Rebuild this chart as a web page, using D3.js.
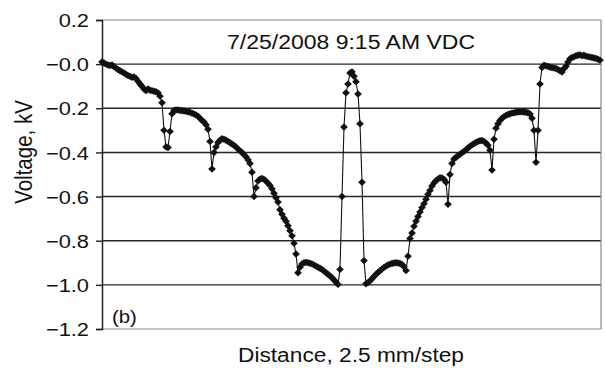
<!DOCTYPE html>
<html>
<head>
<meta charset="utf-8">
<script src="https://cdn.jsdelivr.net/npm/d3@7"></script>
<style>
  html, body { margin: 0; padding: 0; background: #fff; }
  svg { display: block; font-family: "Liberation Sans", Arial, sans-serif; }
</style>
</head>
<body>
<svg id="chart" width="605" height="368"></svg>
<script>
// Measured probe voltage (kV) at each 2.5 mm step along the scan
const voltage = [
  0.010, 0.005, 0.000, -0.004, -0.006, -0.004, -0.012, -0.018, -0.024, -0.030,
  -0.035, -0.040, -0.046, -0.052, -0.055, -0.060, -0.058, -0.065, -0.078, -0.090,
  -0.100, -0.113, -0.120, -0.112, -0.118, -0.120, -0.123, -0.125, -0.130, -0.145,
  -0.175,
  -0.300, -0.375, -0.378, -0.305, -0.225, -0.210,
  -0.208, -0.207, -0.210, -0.210, -0.212, -0.214, -0.216, -0.218, -0.222, -0.226,
  -0.230, -0.236, -0.245, -0.255, -0.262, -0.275, -0.295, -0.350,
  -0.475, -0.400,
  -0.375, -0.355, -0.345, -0.338, -0.340, -0.345, -0.350, -0.356, -0.362, -0.368,
  -0.375, -0.385, -0.393, -0.400, -0.410, -0.420, -0.433, -0.450,
  -0.490, -0.600, -0.560, -0.530, -0.520, -0.518, -0.522, -0.530, -0.540, -0.550,
  -0.565, -0.585, -0.605, -0.625, -0.660, -0.680, -0.698, -0.712, -0.732, -0.755,
  -0.778, -0.812, -0.860, -0.945,
  -0.920, -0.905, -0.900, -0.898, -0.900, -0.902, -0.905, -0.910, -0.915, -0.920,
  -0.925, -0.930, -0.937, -0.945, -0.952, -0.960, -0.968, -0.978, -0.988, -0.998,
  -0.930, -0.600, -0.285, -0.130, -0.090, -0.040, -0.035, -0.055, -0.080, -0.135,
  -0.270, -0.535, -0.890, -0.995, -0.990,
  -0.982, -0.972, -0.962, -0.952, -0.944, -0.936, -0.928, -0.921, -0.915, -0.910,
  -0.906, -0.903, -0.901, -0.900, -0.901, -0.903, -0.908, -0.918, -0.935, -0.870,
  -0.790, -0.765, -0.735, -0.712, -0.690, -0.670, -0.650, -0.632, -0.612, -0.590,
  -0.572, -0.552, -0.538, -0.528, -0.520, -0.515, -0.516, -0.522, -0.535, -0.635,
  -0.500, -0.450, -0.430, -0.422, -0.415, -0.408, -0.402, -0.395, -0.388, -0.380,
  -0.372, -0.366, -0.360, -0.355, -0.350, -0.347, -0.346, -0.350, -0.357, -0.368,
  -0.390, -0.480,
  -0.340, -0.290, -0.270, -0.255, -0.245, -0.238, -0.232, -0.228, -0.225, -0.222,
  -0.220, -0.218, -0.217, -0.216, -0.216, -0.217, -0.218, -0.220, -0.226, -0.245,
  -0.300, -0.445, -0.300,
  -0.090, -0.015, -0.005, -0.008, -0.010, -0.014, -0.016, -0.018, -0.020, -0.024,
  -0.030, -0.036, -0.020, -0.010, 0.010, 0.025, 0.030, 0.033, 0.038, 0.040,
  0.042, 0.038, 0.040, 0.036, 0.034, 0.032, 0.030, 0.028, 0.026, 0.022,
  0.018
];

// Y axis ticks and their printed labels
const yTicks = [0.2, 0.0, -0.2, -0.4, -0.6, -0.8, -1.0, -1.2];
const yTickLabels = ["0.2", "\u22120.0", "\u22120.2", "\u22120.4", "\u22120.6", "\u22120.8", "\u22121.0", "\u22121.2"];

const titleText = "7/25/2008 9:15 AM VDC";
const xTitle = "Distance, 2.5 mm/step";
const yTitle = "Voltage, kV";
const panelTag = "(b)";

const svg = d3.select("#chart");
const plot = { left: 102, right: 601, top: 20, bottom: 329 };
const steps = d3.range(voltage.length);

const x = d3.scaleLinear().domain([0, voltage.length - 1]).range([plot.left, plot.right - 1]);
const y = d3.scaleLinear().domain([-1.2, 0.2]).range([plot.bottom, plot.top]);

// Horizontal gridlines (inner ones dark, outer frame grey)
svg.append("g")
  .selectAll("line")
  .data(yTicks)
  .join("line")
  .attr("x1", plot.left).attr("x2", plot.right)
  .attr("y1", d => y(d)).attr("y2", d => y(d))
  .attr("stroke", d => (d === 0.2 || d === -1.2) ? "#8a8a8a" : "#262626")
  .attr("stroke-width", d => (d === 0.2 || d === -1.2) ? 1.2 : 1.4);

// Right frame edge
svg.append("line")
  .attr("x1", plot.right).attr("x2", plot.right)
  .attr("y1", plot.top).attr("y2", plot.bottom)
  .attr("stroke", "#8a8a8a").attr("stroke-width", 1.2);

// Left axis with ticks
const sx = 1.18;
const yAxis = d3.axisLeft(y)
  .tickValues(yTicks)
  .tickFormat((d, i) => yTickLabels[i])
  .tickSize(6)
  .tickPadding(7);

const gy = svg.append("g")
  .attr("transform", `translate(${plot.left},0)`)
  .call(yAxis);
gy.select(".domain").attr("stroke", "#222").attr("stroke-width", 1.5);
gy.selectAll(".tick line").attr("stroke", "#222").attr("stroke-width", 1.4);
gy.selectAll(".tick text")
  .attr("fill", "#111")
  .attr("font-size", 18.5)
  .attr("font-family", "Liberation Sans, Arial, sans-serif")
  .attr("x", -13 / sx)
  .attr("dy", "0.36em")
  .attr("transform", `scale(${sx},1)`);

// Connecting line
const line = d3.line()
  .x((d, i) => x(steps[i]))
  .y(d => y(d));

svg.append("path")
  .datum(voltage)
  .attr("d", line)
  .attr("fill", "none")
  .attr("stroke", "#111")
  .attr("stroke-width", 1.1);

// Diamond markers
const diamond = "M0,-3.7L3.8,0L0,3.7L-3.8,0Z";
svg.append("g")
  .selectAll("path")
  .data(voltage)
  .join("path")
  .attr("d", diamond)
  .attr("transform", (d, i) => `translate(${x(steps[i])},${y(d)})`)
  .attr("fill", "#111");

// Title inside the plot
svg.append("text")
  .attr("x", 351).attr("y", 49)
  .attr("text-anchor", "middle")
  .attr("font-size", 19.5)
  .attr("fill", "#111")
  .attr("textLength", 248)
  .attr("lengthAdjust", "spacingAndGlyphs")
  .text(titleText);

// X axis title
svg.append("text")
  .attr("x", 351).attr("y", 362)
  .attr("text-anchor", "middle")
  .attr("font-size", 19.5)
  .attr("fill", "#111")
  .attr("textLength", 226)
  .attr("lengthAdjust", "spacingAndGlyphs")
  .text(xTitle);

// Y axis title
svg.append("g")
  .attr("transform", `translate(32,152) scale(1.17,1) rotate(-90)`)
  .append("text")
  .attr("text-anchor", "middle")
  .attr("font-size", 20.5)
  .attr("fill", "#111")
  .text(yTitle);

// Panel tag
svg.append("g")
  .attr("transform", `translate(112,323) scale(1.1,1)`)
  .append("text")
  .attr("font-size", 18.5)
  .attr("fill", "#111")
  .text(panelTag);
</script>
</body>
</html>
